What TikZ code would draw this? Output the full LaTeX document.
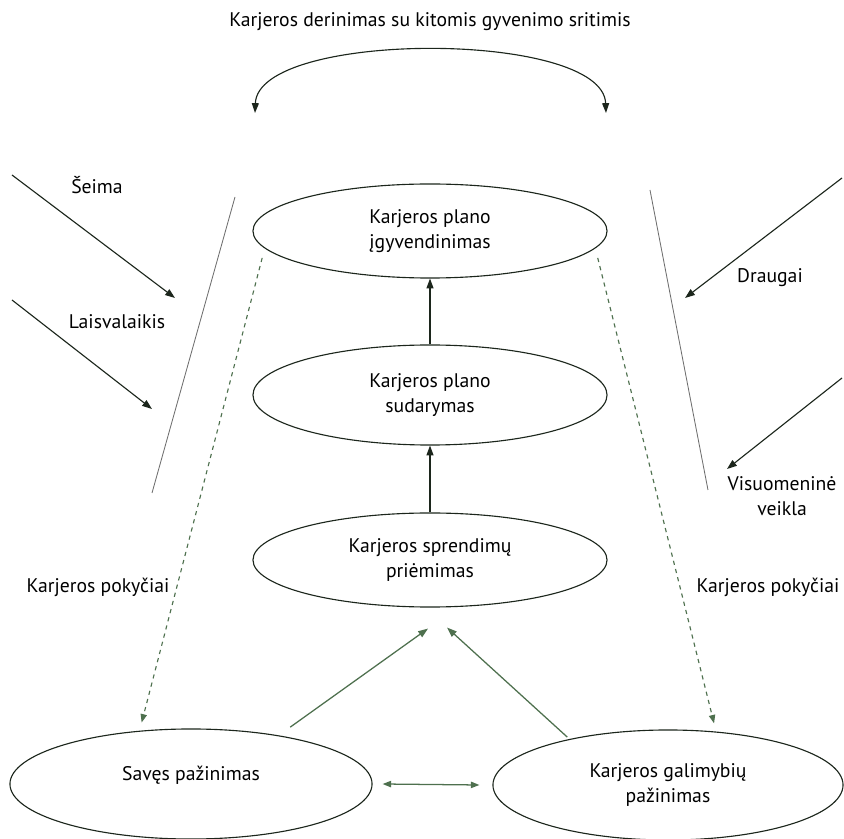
\documentclass[tikz,border=0pt]{standalone}
\usepackage{fontspec}
\setmainfont{PT Sans}
\usetikzlibrary{arrows.meta,positioning,calc,shapes.geometric}

\definecolor{inkdark}{RGB}{28,38,28}
\definecolor{leafgreen}{RGB}{78,112,78}
\definecolor{wallgray}{RGB}{110,110,110}

\tikzset{
  stage/.style={draw=inkdark,ellipse,line width=0.8pt,inner sep=0pt,
    minimum width=8.85cm,minimum height=2.35cm,align=center,
    font=\fontsize{14}{17.5}\selectfont},
  lbl/.style={font=\fontsize{14}{17.5}\selectfont,align=center},
  upar/.style={-{Triangle[length=7pt,width=5pt]},inkdark,line width=0.8pt},
  grar/.style={-{Triangle[length=7pt,width=5pt]},leafgreen,line width=0.9pt},
  dsh/.style={-{Triangle[length=6pt,width=4.5pt]},leafgreen,dashed,line width=0.8pt},
}

\begin{document}
\begin{tikzpicture}[x=0.025cm,y=-0.025cm]
  \useasboundingbox (0,0) rectangle (844,839);

  % ====== Stages (ellipses) ======
  \node[stage] (igyv) at (430,231) {Karjeros plano\\įgyvendinimas};
  \node[stage,minimum height=2.5cm] (sudar) at (430,395) {Karjeros plano\\sudarymas};
  \node[stage] (spren) at (430,560) {Karjeros sprendimų\\priėmimas};
  \node[stage,minimum width=9.05cm,minimum height=2.75cm] (saves) at (191,784)
    {\raisebox{15pt}{Savęs pažinimas}};
  \node[stage,minimum width=8.75cm,minimum height=2.75cm] (galim) at (668,785)
    {Karjeros galimybių\\pažinimas};

  % ====== Upward steps ======
  \draw[upar] (sudar.north) -- (igyv.south);
  \draw[upar] (spren.north) -- (sudar.south);

  % ====== Knowledge into decision ======
  \draw[grar,shorten <=10pt] (saves.29) -- ($(spren.south)+(-2,21)$);
  \draw[grar,shorten <=2pt] (galim.155) -- ($(spren.south)+(17,20)$);
  \path (saves.east) ++(10,0) coordinate (dl) (galim.west) ++(-13,0) coordinate (dr);
  \draw[{Triangle[length=6pt,width=4.5pt]}-{Triangle[length=6pt,width=4.5pt]},leafgreen,line width=0.9pt]
    (dl) -- (dr);

  % ====== Career changes (dashed) ======
  \draw[dsh,shorten <=7pt,shorten >=6pt] (igyv.186) -- (saves.134);
  \draw[dsh,shorten <=7pt,shorten >=6pt] (igyv.354) -- (galim.48);
  \node[lbl] (pokL) at (98,587) {Karjeros pokyčiai};
  \node[lbl] (pokR) at (768,587) {Karjeros pokyčiai};

  % ====== Walls (thin lines) ======
  \coordinate (wl1) at (235,197); \coordinate (wl2) at (152,493);
  \coordinate (wr1) at (650,190); \coordinate (wr2) at (708,490);
  \draw[wallgray,line width=0.6pt] (wl1) -- (wl2);
  \draw[wallgray,line width=0.6pt] (wr1) -- (wr2);

  % ====== Outside influences ======
  \coordinate (seimaA) at (12,175);  \coordinate (seimaB) at (175,298);
  \coordinate (laisvA) at (12,300);  \coordinate (laisvB) at (152,409);
  \coordinate (draugA) at (842,178); \coordinate (draugB) at (685,298);
  \coordinate (visuoA) at (842,378); \coordinate (visuoB) at (727,469);
  \foreach \p in {seima,laisv,draug,visuo}{
    \draw[upar] (\p A) -- (\p B);
  }
  \node[lbl] (seima) at (97,185) {Šeima};
  \node[lbl] (laisv) at (117,322) {Laisvalaikis};
  \node[lbl] (draug) at (770,278) {Draugai};
  \node[lbl] (visuo) at (782,496) {Visuomeninė\\veikla};

  % ====== Balance with other life areas ======
  \node[lbl] (title) at (430,22) {Karjeros derinimas su kitomis gyvenimo sritimis};
  \coordinate (arcL) at (255,113);
  \coordinate (arcR) at (606,113);
  \draw[{Triangle[length=7pt,width=5pt]}-{Triangle[length=7pt,width=5pt]},inkdark,line width=0.8pt]
    (arcL) .. controls (258,30) and (603,30) .. (arcR);
\end{tikzpicture}
\end{document}
